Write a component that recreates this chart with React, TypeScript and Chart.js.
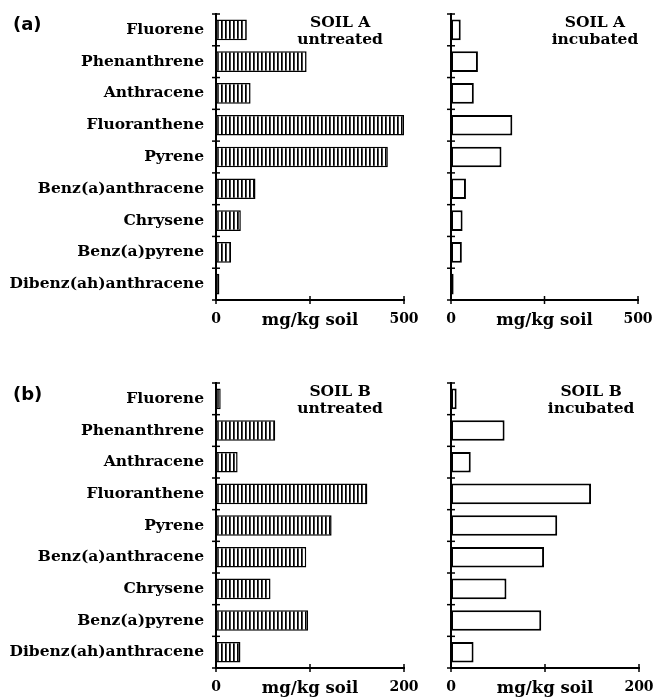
import React, { useEffect, useRef } from 'react';
import { Chart, registerables } from 'chart.js';

Chart.register(...registerables);

const categories = [
  'Fluorene',
  'Phenanthrene',
  'Anthracene',
  'Fluoranthene',
  'Pyrene',
  'Benz(a)anthracene',
  'Chrysene',
  'Benz(a)pyrene',
  'Dibenz(ah)anthracene',
];

const soilAUntreated = [82, 241, 92, 500, 457, 105, 66, 40, 9];
const soilAIncubated = [26, 72, 61, 164, 135, 40, 31, 29, 7];
const soilBUntreated = [5, 63, 23, 161, 123, 96, 58, 98, 26];
const soilBIncubated = [6, 57, 21, 149, 113, 99, 59, 96, 24];

const soilAMax = 500;
const soilBMax = 200;
const axisUnitLabel = 'mg/kg soil';

const SERIF = "'DejaVu Serif', serif";

function makeHatch(): CanvasPattern | string {
  const c = document.createElement('canvas');
  c.width = 4;
  c.height = 4;
  const g = c.getContext('2d');
  if (!g) return '#fff';
  g.fillStyle = '#fff';
  g.fillRect(0, 0, 4, 4);
  g.fillStyle = '#000';
  g.fillRect(1, 0, 1, 4);
  g.fillStyle = '#444';
  g.fillRect(2, 0, 1, 4);
  const p = g.createPattern(c, 'repeat');
  return p || '#fff';
}

const decorPlugin = {
  id: 'decor',
  afterDraw(chart: any, _args: any, opts: any) {
    const ctx = chart.ctx;
    const a = chart.chartArea;
    const xs = chart.scales.x;
    const ys = chart.scales.y;
    ctx.save();
    ctx.strokeStyle = '#000';
    ctx.lineWidth = 1.5;
    const n = ys.ticks.length;
    for (let k = 0; k <= n; k++) {
      const py = a.top + (k * (a.bottom - a.top)) / n;
      ctx.beginPath();
      ctx.moveTo(a.left - 4, py);
      ctx.lineTo(a.left + 4, py);
      ctx.stroke();
    }
    xs.ticks.forEach((t: any) => {
      const px = xs.getPixelForValue(t.value);
      ctx.beginPath();
      ctx.moveTo(px, a.bottom - 4);
      ctx.lineTo(px, a.bottom + 4);
      ctx.stroke();
    });
    ctx.fillStyle = '#000';
    ctx.font = `bold 15.5px ${SERIF}`;
    ctx.textAlign = 'center';
    ctx.textBaseline = 'middle';
    const nx = a.left + opts.noteX * (a.right - a.left);
    (opts.note as string[]).forEach((s, i) => {
      ctx.fillText(s, nx, a.top + 9 + i * 16.5);
    });
    if (opts.tag) {
      ctx.font = "bold 18px 'DejaVu Sans', sans-serif";
      ctx.textAlign = 'left';
      ctx.fillText(opts.tag, 13, opts.tagY);
    }
    ctx.restore();
  },
};

type Area = { left: number; right: number; top: number; bottom: number };

type PanelProps = {
  values: number[];
  max: number;
  hatched: boolean;
  showLabels: boolean;
  note: string[];
  noteX: number;
  tag?: string;
  tagY?: number;
  left: number;
  top: number;
  width: number;
  height: number;
  area: Area;
};

function Panel(p: PanelProps) {
  const ref = useRef<HTMLCanvasElement | null>(null);
  useEffect(() => {
    if (!ref.current) return;
    const mid = p.max / 2;
    const chart = new Chart(ref.current, {
      type: 'bar',
      data: {
        labels: categories,
        datasets: [
          {
            data: p.values,
            backgroundColor: p.hatched ? makeHatch() : '#fff',
            borderColor: '#000',
            borderWidth: p.hatched ? 1.5 : 2,
            borderSkipped: false,
            barPercentage: 0.65,
            categoryPercentage: 1,
          },
        ],
      },
      options: {
        indexAxis: 'y',
        animation: false,
        responsive: false,
        devicePixelRatio: 1,
        layout: {
          padding: {
            top: p.area.top,
            left: 0,
            right: p.width - p.area.right,
            bottom: 0,
          },
        },
        plugins: {
          legend: { display: false },
          tooltip: { enabled: false },
          decor: { note: p.note, noteX: p.noteX, tag: p.tag, tagY: p.tagY },
        } as any,
        scales: {
          x: {
            type: 'linear',
            min: 0,
            max: p.max,
            afterFit: (s: any) => {
              s.height = p.height - p.area.bottom;
              s.paddingLeft = 0;
              s.paddingRight = 0;
              s.paddingTop = 0;
              s.paddingBottom = 0;
            },
            ticks: {
              stepSize: mid,
              autoSkip: false,
              maxRotation: 0,
              padding: 11,
              color: '#000',
              font: (c: any) =>
                c.tick && c.tick.value === mid
                  ? { family: SERIF, size: 16.5, weight: 'bold' }
                  : { family: SERIF, size: 14, weight: 'bold' },
              callback: (v: any) => (v === mid ? axisUnitLabel : String(v)),
            },
            grid: { display: false, drawTicks: false },
            border: { display: true, color: '#000', width: 2 },
          },
          y: {
            type: 'category',
            offset: true,
            afterFit: (s: any) => {
              s.width = p.area.left;
              s.paddingLeft = 0;
              s.paddingRight = 0;
              s.paddingTop = 0;
              s.paddingBottom = 0;
            },
            ticks: {
              display: p.showLabels,
              autoSkip: false,
              padding: 12,
              color: '#000',
              font: { family: SERIF, size: 15.5, weight: 'bold' },
            },
            grid: { display: false, drawTicks: false },
            border: { display: true, color: '#000', width: 2 },
          },
        },
      } as any,
      plugins: [decorPlugin],
    });
    return () => chart.destroy();
  }, []);
  return (
    <canvas
      ref={ref}
      width={p.width}
      height={p.height}
      style={{
        position: 'absolute',
        left: p.left,
        top: p.top,
        width: p.width,
        height: p.height,
      }}
    />
  );
}

export default function App() {
  return (
    <div
      style={{
        position: 'absolute',
        left: 0,
        top: 0,
        width: 656,
        height: 699,
        background: '#fff',
      }}
    >
      <Panel
        values={soilAUntreated}
        max={soilAMax}
        hatched={true}
        showLabels={true}
        note={['SOIL A', 'untreated']}
        noteX={0.66}
        tag="(a)"
        tagY={25}
        left={0}
        top={0}
        width={420}
        height={345}
        area={{ left: 216, right: 404, top: 14, bottom: 300 }}
      />
      <Panel
        values={soilAIncubated}
        max={soilAMax}
        hatched={false}
        showLabels={false}
        note={['SOIL A', 'incubated']}
        noteX={0.77}
        left={420}
        top={0}
        width={236}
        height={345}
        area={{ left: 31, right: 218, top: 14, bottom: 300 }}
      />
      <Panel
        values={soilBUntreated}
        max={soilBMax}
        hatched={true}
        showLabels={true}
        note={['SOIL B', 'untreated']}
        noteX={0.66}
        tag="(b)"
        tagY={50}
        left={0}
        top={345}
        width={420}
        height={354}
        area={{ left: 216, right: 404, top: 38, bottom: 323 }}
      />
      <Panel
        values={soilBIncubated}
        max={soilBMax}
        hatched={false}
        showLabels={false}
        note={['SOIL B', 'incubated']}
        noteX={0.745}
        left={420}
        top={345}
        width={236}
        height={354}
        area={{ left: 31, right: 219, top: 38, bottom: 323 }}
      />
    </div>
  );
}
